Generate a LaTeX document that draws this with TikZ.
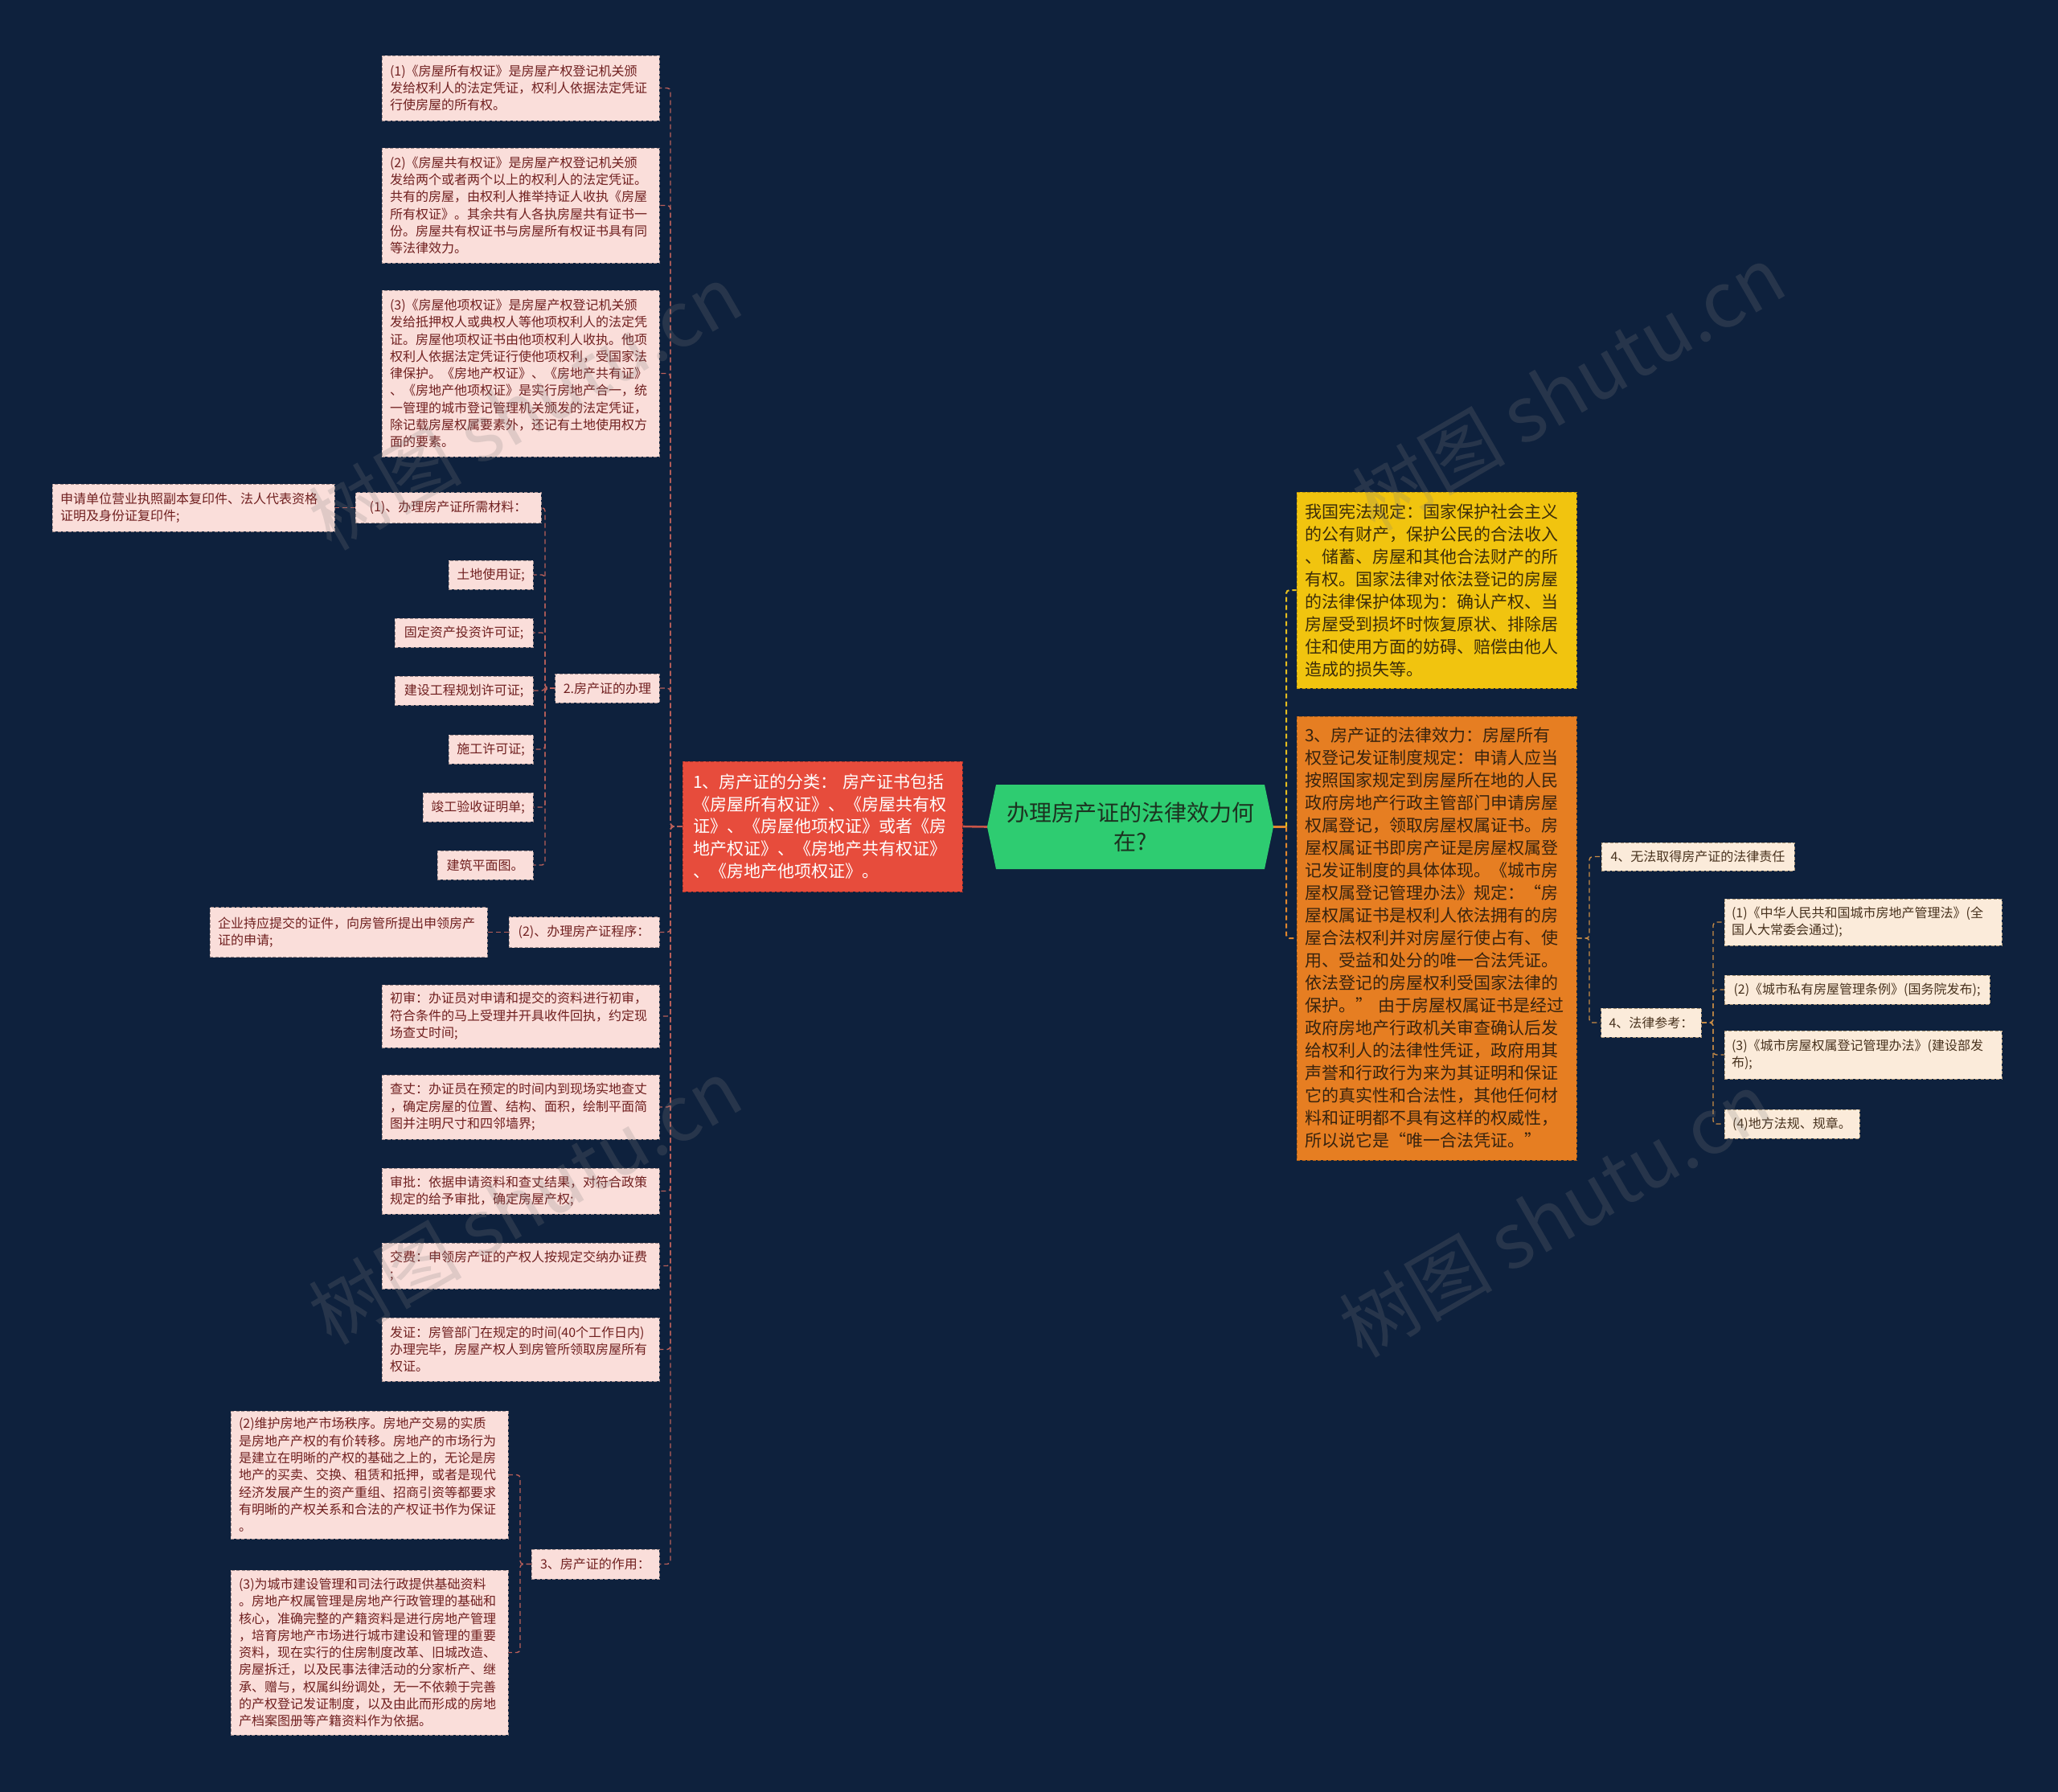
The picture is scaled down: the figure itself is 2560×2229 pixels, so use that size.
\documentclass[tikz,border=0pt]{standalone}
\usepackage{fontspec}
\setmainfont{Noto Sans CJK SC}
\usetikzlibrary{calc}
\pgfdeclarelayer{bgl}
\pgfdeclarelayer{edges}
\pgfsetlayers{bgl,edges,main}
\definecolor{bgc}{RGB}{14,33,61}
\definecolor{lpink}{RGB}{250,222,218}
\definecolor{lbord}{RGB}{160,140,140}
\definecolor{ltext}{RGB}{112,32,32}
\definecolor{rbeige}{RGB}{251,235,218}
\definecolor{rbord}{RGB}{170,150,120}
\definecolor{rtext}{RGB}{72,50,30}
\definecolor{redf}{RGB}{231,76,60}
\definecolor{redb}{RGB}{170,50,40}
\definecolor{greenf}{RGB}{46,204,113}
\definecolor{greent}{RGB}{28,50,32}
\definecolor{yelf}{RGB}{241,196,15}
\definecolor{yelb}{RGB}{190,150,10}
\definecolor{yelt}{RGB}{60,45,10}
\definecolor{orgf}{RGB}{230,126,34}
\definecolor{orgb}{RGB}{170,95,25}
\definecolor{orgt}{RGB}{55,35,15}
\definecolor{lcon}{RGB}{185,95,90}
\definecolor{rcon}{RGB}{200,140,70}
\definecolor{redline}{RGB}{200,85,72}
\definecolor{ycon}{RGB}{230,190,30}
\definecolor{ocon}{RGB}{225,135,45}
\tikzset{
  box/.style={rectangle, inner xsep=10pt, inner ysep=0pt, align=left, anchor=center},
  lp/.style={box, fill=lpink, draw=lbord, dash pattern=on 4pt off 2.5pt, line width=0.9pt,
             text=ltext, font=\fontsize{16}{21.3}\selectfont},
  rp/.style={box, fill=rbeige, draw=rbord, dash pattern=on 4pt off 2.5pt, line width=0.9pt,
             text=rtext, font=\fontsize{16}{21.3}\selectfont},
  redbox/.style={box, inner xsep=13pt, fill=redf, draw=redb, dash pattern=on 4pt off 2.5pt,
             line width=1pt, text=white, font=\fontsize{21}{27.8}\selectfont},
  yelbox/.style={box, fill=yelf, draw=yelb, dash pattern=on 4pt off 2.5pt,
             line width=1pt, text=yelt, font=\fontsize{21}{28}\selectfont},
  orgbox/.style={box, fill=orgf, draw=orgb, dash pattern=on 4pt off 2.5pt,
             line width=1pt, text=orgt, font=\fontsize{21}{28}\selectfont},
  lconn/.style={draw=lcon, line width=1.4pt, dash pattern=on 6pt off 4pt, rounded corners=4pt},
  rconn/.style={draw=rcon, line width=1.4pt, dash pattern=on 6pt off 4pt, rounded corners=4pt},
  wm/.style={text=gray, opacity=0.22, font=\fontsize{95}{95}\selectfont, rotate=30},
}
\begin{document}
\begin{tikzpicture}[x=1pt,y=-1pt]
\begin{pgfonlayer}{bgl}
\fill[bgc] (0,0) rectangle (2560,2229);
\end{pgfonlayer}
\useasboundingbox (0,0) rectangle (2560,2229);

% ---------- center ----------
\fill[greenf] (1228,1028.5) -- (1239,976) -- (1573,976) -- (1584,1028.5) -- (1573,1081) -- (1239,1081) -- cycle;
\node[minimum width=356pt, minimum height=105pt, inner sep=0pt, align=center, text=greent,
      font=\fontsize{28}{36}\selectfont] (root) at (1406,1028.5) {办理房产证的法律效力何\\在?};

\node[redbox, text width=322pt, minimum height=162pt] (red) at (1023,1028) {1、房产证的分类： 房产证书包括\\《房屋所有权证》、《房屋共有权\\证》、《房屋他项权证》或者《房\\地产权证》、《房地产共有权证》\\、《房地产他项权证》。};

\node[yelbox, text width=328pt, minimum height=244pt] (yel) at (1787,734) {我国宪法规定：国家保护社会主义\\的公有财产，保护公民的合法收入\\、储蓄、房屋和其他合法财产的所\\有权。国家法律对依法登记的房屋\\的法律保护体现为：确认产权、当\\房屋受到损坏时恢复原状、排除居\\住和使用方面的妨碍、赔偿由他人\\造成的损失等。};

\node[orgbox, text width=328pt, minimum height=552pt] (org) at (1787,1167) {3、房产证的法律效力：房屋所有\\权登记发证制度规定：申请人应当\\按照国家规定到房屋所在地的人民\\政府房地产行政主管部门申请房屋\\权属登记，领取房屋权属证书。房\\屋权属证书即房产证是房屋权属登\\记发证制度的具体体现。《城市房\\屋权属登记管理办法》规定：“房\\屋权属证书是权利人依法拥有的房\\屋合法权利并对房屋行使占有、使\\用、受益和处分的唯一合法凭证。\\依法登记的房屋权利受国家法律的\\保护。” 由于房屋权属证书是经过\\政府房地产行政机关审查确认后发\\给权利人的法律性凭证，政府用其\\声誉和行政行为来为其证明和保证\\它的真实性和合法性，其他任何材\\料和证明都不具有这样的权威性，\\所以说它是“唯一合法凭证。”};

% ---------- left leaves ----------
\node[lp, text width=325pt, minimum height=81pt] (l1) at (647.5,109.5) {(1)《房屋所有权证》是房屋产权登记机关颁\\发给权利人的法定凭证，权利人依据法定凭证\\行使房屋的所有权。};
\node[lp, text width=325pt, minimum height=143pt] (l2) at (647.5,255.5) {(2)《房屋共有权证》是房屋产权登记机关颁\\发给两个或者两个以上的权利人的法定凭证。\\共有的房屋，由权利人推举持证人收执《房屋\\所有权证》。其余共有人各执房屋共有证书一\\份。房屋共有权证书与房屋所有权证书具有同\\等法律效力。};
\node[lp, text width=325pt, minimum height=207pt] (l3) at (647.5,464.5) {(3)《房屋他项权证》是房屋产权登记机关颁\\发给抵押权人或典权人等他项权利人的法定凭\\证。房屋他项权证书由他项权利人收执。他项\\权利人依据法定凭证行使他项权利，受国家法\\律保护。《房地产权证》、《房地产共有证》\\、《房地产他项权证》是实行房地产合一，统\\一管理的城市登记管理机关颁发的法定凭证，\\除记载房屋权属要素外，还记有土地使用权方\\面的要素。};

\node[lp, minimum width=129pt, minimum height=36pt] (ban) at (755.5,856) {2.房产证的办理};
\node[lp, minimum width=231pt, minimum height=38pt] (cl) at (557.5,631.5) {(1)、办理房产证所需材料：};
\node[lp, text width=331pt, minimum height=59pt] (sq) at (240.5,631.5) {申请单位营业执照副本复印件、法人代表资格\\证明及身份证复印件;};
\node[lp, minimum width=105pt, minimum height=36pt] (m1) at (610.5,715) {土地使用证;};
\node[lp, minimum width=172pt, minimum height=36pt] (m2) at (577,787) {固定资产投资许可证;};
\node[lp, minimum width=172pt, minimum height=36pt] (m3) at (577,859) {建设工程规划许可证;};
\node[lp, minimum width=105pt, minimum height=36pt] (m4) at (610.5,932) {施工许可证;};
\node[lp, minimum width=137pt, minimum height=36pt] (m5) at (594.5,1004) {竣工验收证明单;};
\node[lp, minimum width=119pt, minimum height=36pt] (m6) at (603.5,1076) {建筑平面图。};

\node[lp, minimum width=187pt, minimum height=38pt] (cx) at (726.5,1159.5) {(2)、办理房产证程序：};
\node[lp, text width=325pt, minimum height=62pt] (qy) at (433.5,1159.5) {企业持应提交的证件，向房管所提出申领房产\\证的申请;};
\node[lp, text width=325pt, minimum height=78pt] (cs) at (647.5,1264) {初审：办证员对申请和提交的资料进行初审，\\符合条件的马上受理并开具收件回执，约定现\\场查丈时间;};
\node[lp, text width=325pt, minimum height=80pt] (cz) at (647.5,1377) {查丈：办证员在预定的时间内到现场实地查丈\\，确定房屋的位置、结构、面积，绘制平面简\\图并注明尺寸和四邻墙界;};
\node[lp, text width=325pt, minimum height=57pt] (sp) at (647.5,1481.5) {审批：依据申请资料和查丈结果，对符合政策\\规定的给予审批，确定房屋产权;};
\node[lp, text width=325pt, minimum height=57pt] (jf) at (647.5,1574.5) {交费：申领房产证的产权人按规定交纳办证费\\;};
\node[lp, text width=325pt, minimum height=79pt] (fz) at (647.5,1678.5) {发证：房管部门在规定的时间(40个工作日内)\\办理完毕，房屋产权人到房管所领取房屋所有\\权证。};

\node[lp, minimum width=159pt, minimum height=37pt] (zy) at (740.5,1945.5) {3、房产证的作用：};
\node[lp, text width=325pt, minimum height=159pt] (zy2) at (459.5,1834.5) {(2)维护房地产市场秩序。房地产交易的实质\\是房地产产权的有价转移。房地产的市场行为\\是建立在明晰的产权的基础之上的，无论是房\\地产的买卖、交换、租赁和抵押，或者是现代\\经济发展产生的资产重组、招商引资等都要求\\有明晰的产权关系和合法的产权证书作为保证\\。};
\node[lp, text width=325pt, minimum height=205pt] (zy3) at (459.5,2055.5) {(3)为城市建设管理和司法行政提供基础资料\\。房地产权属管理是房地产行政管理的基础和\\核心，准确完整的产籍资料是进行房地产管理\\，培育房地产市场进行城市建设和管理的重要\\资料，现在实行的住房制度改革、旧城改造、\\房屋拆迁，以及民事法律活动的分家析产、继\\承、赠与，权属纠纷调处，无一不依赖于完善\\的产权登记发证制度，以及由此而形成的房地\\产档案图册等产籍资料作为依据。};

% ---------- right leaves ----------
\node[rp, minimum width=240pt, minimum height=35pt] (wf) at (2112,1065.5) {4、无法取得房产证的法律责任};
\node[rp, minimum width=124pt, minimum height=36pt] (fl) at (2054,1272) {4、法律参考：};
\node[rp, inner xsep=9pt, text width=327pt, minimum height=58pt] (r1) at (2317.5,1147) {(1)《中华人民共和国城市房地产管理法》(全\\国人大常委会通过);};
\node[rp, minimum width=330pt, minimum height=36pt] (r2) at (2310,1231) {(2)《城市私有房屋管理条例》(国务院发布);};
\node[rp, inner xsep=9pt, text width=327pt, minimum height=60pt] (r3) at (2317.5,1312) {(3)《城市房屋权属登记管理办法》(建设部发\\布);};
\node[rp, minimum width=168pt, minimum height=36pt] (r4) at (2229,1398) {(4)地方法规、规章。};

% ---------- trunk coordinates ----------
\coordinate (tL) at (834,0);
\coordinate (tB) at (678,0);
\coordinate (tZ) at (647,0);
\coordinate (tR) at (1600,0);
\coordinate (tO) at (1977,0);
\coordinate (tF) at (2131,0);

% ---------- connectors ----------
\begin{pgfonlayer}{edges}
\foreach \c in {l1,l2,l3,ban,cx,cs,cz,sp,jf,fz,zy}
  \draw[lconn] (red.west) -- (tL |- red.west) -- (tL |- \c.east) -- (\c.east);
\foreach \c in {cl,m1,m2,m3,m4,m5,m6}
  \draw[lconn] (ban.west) -- (tB |- ban.west) -- (tB |- \c.east) -- (\c.east);
\draw[lconn] (cl.west) -- (sq.east);
\draw[lconn] (cx.west) -- (qy.east);
\foreach \c in {zy2,zy3}
  \draw[lconn] (zy.west) -- (tZ |- zy.west) -- (tZ |- \c.east) -- (\c.east);
\draw[draw=redline, line width=2.6pt] (red.east) -- (root.west);
\draw[draw=ocon, line width=2.6pt] (root.east) -- (tR |- root.east);
\draw[draw=ycon, line width=2pt, dash pattern=on 6pt off 4pt, rounded corners=4pt] (tR |- root.east) -- (tR |- yel.west) -- (yel.west);
\draw[draw=ocon, line width=2pt, dash pattern=on 6pt off 4pt, rounded corners=4pt] (tR |- root.east) -- (tR |- org.west) -- (org.west);
\foreach \c in {wf,fl}
  \draw[rconn] (org.east) -- (tO |- org.east) -- (tO |- \c.west) -- (\c.west);
\foreach \c in {r1,r2,r3,r4}
  \draw[rconn] (fl.east) -- (tF |- fl.east) -- (tF |- \c.west) -- (\c.west);
\end{pgfonlayer}

% ---------- watermarks ----------
\node[wm] (wm1) at (653,506) {树图 shutu.cn};
\node[wm] (wm2) at (653,1494) {树图 shutu.cn};
\node[wm] (wm3) at (1951,482) {树图 shutu.cn};
\node[wm] (wm4) at (1935,1510) {树图 shutu.cn};
\end{tikzpicture}
\end{document}
